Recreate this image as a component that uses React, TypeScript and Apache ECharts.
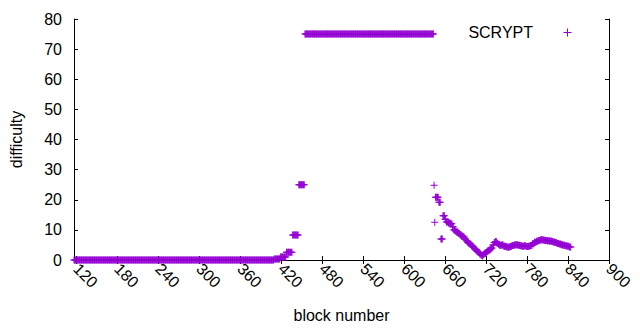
import React, { useEffect, useRef } from "react";
import * as echarts from "echarts";

// Step data: each run starts at runStarts[i] (block number)
// and holds runValues[i] until the next run starts; the last run ends at lastBlock.
const runStarts = [
  117, 410, 419, 428, 437, 446, 455, 644, 645, 646, 651, 654, 657,
  660, 662, 665, 668, 671, 673, 675, 677, 680, 682, 684, 687, 689, 691, 693, 695,
  697, 699, 701, 703, 705, 707, 709, 711, 713, 715, 716, 718, 720, 722, 724, 726,
  728, 730, 732, 734, 736, 738, 740, 743, 746, 749, 752, 755, 758, 761, 764, 767,
  770, 773, 776, 779, 782, 785, 788, 791, 794, 797, 800, 803, 806, 809, 812, 815,
  818, 821, 824, 827, 830, 833, 836, 839, 842,
];
const runValues = [
  0, 0.3, 1.0, 2.6, 8.3, 25, 75, 24.8, 12.5, 20.8, 19.2, 7.0, 14.7,
  13.5, 12.6, 12.3, 12.0, 11.0, 10.0, 9.6, 9.3, 8.8, 8.3, 8.0, 7.6, 7.0, 6.4, 5.9, 5.5,
  5.2, 4.7, 4.2, 3.7, 3.3, 2.9, 2.5, 2.0, 1.6, 1.3, 1.8, 2.2, 2.6, 3.0, 3.2, 3.6,
  4.0, 5.0, 5.8, 6.1, 5.6, 5.2, 4.9, 5.0, 4.6, 4.4, 4.2, 4.5, 4.8, 5.0, 5.1, 4.9,
  4.7, 4.6, 4.7, 4.5, 4.6, 4.8, 5.4, 5.9, 6.2, 6.5, 6.7, 6.6, 6.5, 6.4, 6.3, 6.2,
  6.0, 5.8, 5.5, 5.3, 5.1, 4.9, 4.7, 4.6, 4.3,
];
const lastBlock = 844;

const xTicks = [120, 180, 240, 300, 360, 420, 480, 540, 600, 660, 720, 780, 840, 900];
const seriesName = "SCRYPT";

const PLUS = "path://M3,0H4V3H7V4H4V7H3V4H0V3H3Z";
const FONT = "'Liberation Sans', Arial, sans-serif";
const COLOR = "#9400d3";
const FS = 16;

function buildPoints(): [number, number][] {
  const pts: [number, number][] = [];
  const n = Math.min(runStarts.length, runValues.length);
  for (let i = 0; i < n; i++) {
    const end = i + 1 < n ? runStarts[i + 1] - 1 : lastBlock;
    for (let b = runStarts[i]; b <= end; b++) pts.push([b, runValues[i]]);
  }
  return pts;
}

export default function App() {
  const ref = useRef<HTMLDivElement>(null);
  useEffect(() => {
    if (!ref.current) return;
    const chart = echarts.init(ref.current, null, { renderer: "svg" });
    const axisLine = { show: true, lineStyle: { color: "#000", width: 1 } };
    const tick = { show: true, inside: true, length: 4, lineStyle: { color: "#000" } };
    chart.setOption({
      animation: false,
      textStyle: { fontFamily: FONT },
      grid: { left: 74, right: 31, top: 19, bottom: 70, show: false },
      legend: { show: false, data: [seriesName] },
      graphic: [
        {
          type: "text",
          x: 533,
          y: 32,
          style: {
            text: seriesName,
            align: "right",
            verticalAlign: "middle",
            fontSize: FS,
            fontFamily: FONT,
            fill: "#000",
          },
        },
        {
          type: "line",
          shape: { x1: 563.5, y1: 32.5, x2: 571.5, y2: 32.5 },
          style: { stroke: COLOR, lineWidth: 1 },
        },
        {
          type: "line",
          shape: { x1: 567.5, y1: 28.5, x2: 567.5, y2: 36.5 },
          style: { stroke: COLOR, lineWidth: 1 },
        },
      ],
      xAxis: [
        {
          type: "value",
          min: 117,
          max: 900,
          position: "bottom",
          axisLine,
          axisTick: { ...tick, customValues: xTicks },
          axisLabel: {
            customValues: xTicks,
            rotate: -45,
            margin: 6,
            color: "#000",
            fontSize: FS,
            fontFamily: FONT,
          },
          splitLine: { show: false },
          name: "block number",
          nameLocation: "middle",
          nameGap: 47,
          nameTextStyle: { fontSize: FS, color: "#000", fontFamily: FONT },
        },
        {
          type: "value",
          min: 117,
          max: 900,
          position: "top",
          axisLine,
          axisTick: { ...tick, customValues: xTicks },
          axisLabel: { show: false },
          splitLine: { show: false },
        },
      ],
      yAxis: [
        {
          type: "value",
          min: 0,
          max: 80,
          interval: 10,
          position: "left",
          axisLine,
          axisTick: tick,
          axisLabel: { margin: 12, color: "#000", fontSize: FS, fontFamily: FONT },
          splitLine: { show: false },
          name: "difficulty",
          nameLocation: "middle",
          nameGap: 50,
          nameTextStyle: { fontSize: FS, color: "#000", fontFamily: FONT },
        },
        {
          type: "value",
          min: 0,
          max: 80,
          interval: 10,
          position: "right",
          axisLine,
          axisTick: tick,
          axisLabel: { show: false },
          splitLine: { show: false },
        },
      ],
      series: [
        {
          name: seriesName,
          type: "scatter",
          xAxisIndex: 0,
          yAxisIndex: 0,
          symbol: PLUS,
          symbolSize: 7,
          itemStyle: { color: COLOR, opacity: 1 },
          data: buildPoints(),
          clip: false,
          large: false,
        },
      ],
    });
    return () => chart.dispose();
  }, []);
  return <div ref={ref} style={{ width: 640, height: 330, margin: -8 }} />;
}
